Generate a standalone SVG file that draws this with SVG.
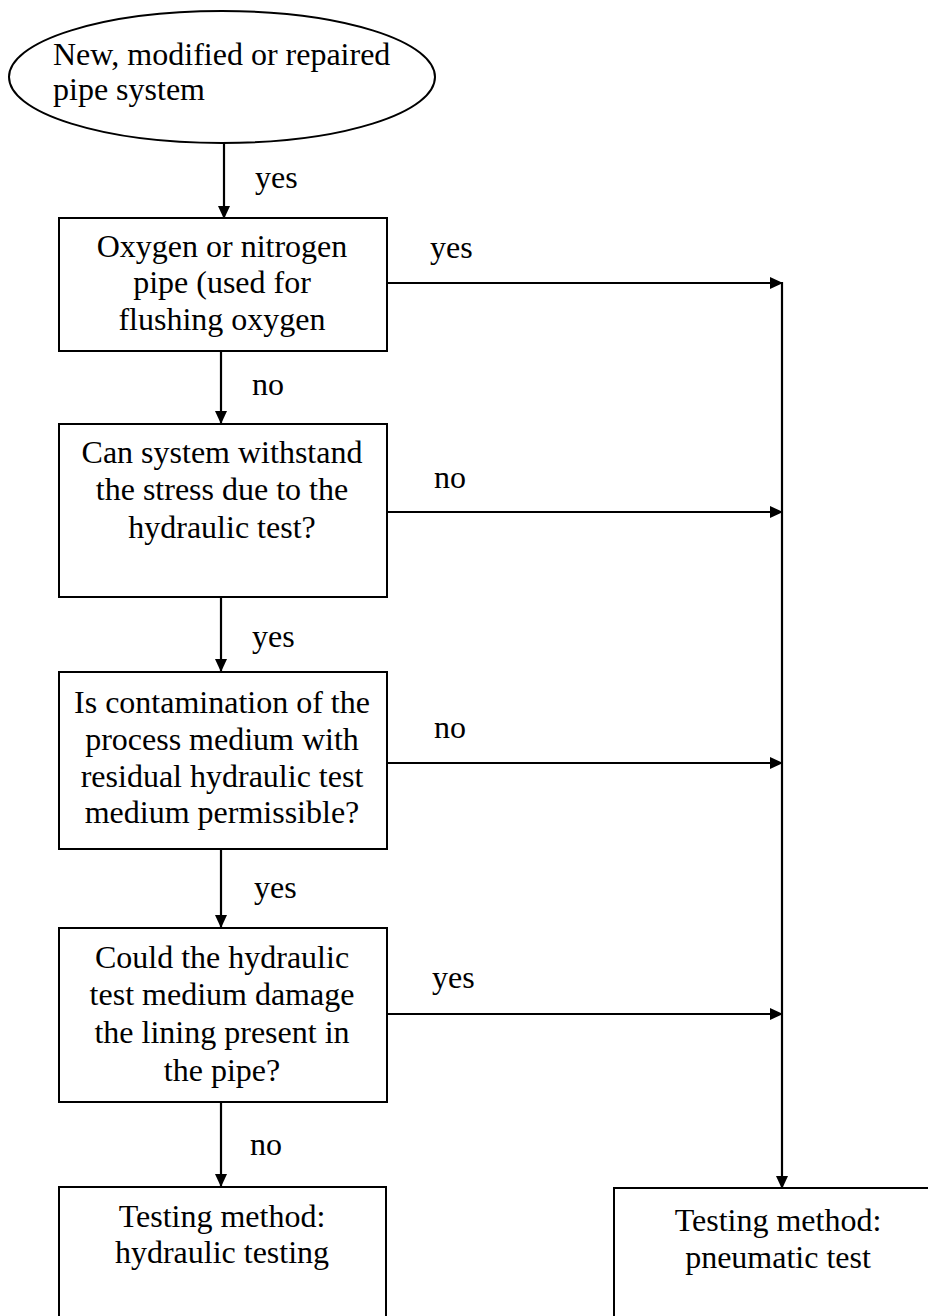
<svg xmlns="http://www.w3.org/2000/svg" width="928" height="1316" viewBox="0 0 928 1316">
<style>
.box{fill:#fff;stroke:#000;stroke-width:2}
.t{font-family:"Liberation Serif","Times New Roman",serif;font-size:32px;fill:#000}
.c{text-anchor:middle}
.ln{fill:none;stroke:#000;stroke-width:2.2}
</style>
<defs>
<marker id="ah" markerWidth="13" markerHeight="12" refX="12" refY="6" orient="auto" markerUnits="userSpaceOnUse">
<path d="M0,0 L13,6 L0,12 Z" fill="#000"/>
</marker>
</defs>
<rect width="928" height="1316" fill="#fff"/>
<g id="start">
<ellipse class="box" cx="222" cy="77" rx="213" ry="66"/>
<text class="t" x="53" y="65">New, modified or repaired</text>
<text class="t" x="53" y="100">pipe system</text>
</g>
<g id="q1">
<rect class="box" x="59" y="218" width="328" height="133"/>
<text class="t c" x="222" y="257">Oxygen or nitrogen</text>
<text class="t c" x="222" y="293">pipe (used for</text>
<text class="t c" x="222" y="330">flushing oxygen</text>
</g>
<g id="q2">
<rect class="box" x="59" y="424" width="328" height="173"/>
<text class="t c" x="222" y="463">Can system withstand</text>
<text class="t c" x="222" y="500">the stress due to the</text>
<text class="t c" x="222" y="538">hydraulic test?</text>
</g>
<g id="q3">
<rect class="box" x="59" y="672" width="328" height="177"/>
<text class="t c" x="222" y="713">Is contamination of the</text>
<text class="t c" x="222" y="750">process medium with</text>
<text class="t c" x="222" y="787">residual hydraulic test</text>
<text class="t c" x="222" y="823">medium permissible?</text>
</g>
<g id="q4">
<rect class="box" x="59" y="928" width="328" height="174"/>
<text class="t c" x="222" y="968">Could the hydraulic</text>
<text class="t c" x="222" y="1005">test medium damage</text>
<text class="t c" x="222" y="1043">the lining present in</text>
<text class="t c" x="222" y="1081">the pipe?</text>
</g>
<g id="hydraulic">
<rect class="box" x="59" y="1187" width="327" height="140"/>
<text class="t c" x="222" y="1227">Testing method:</text>
<text class="t c" x="222" y="1263">hydraulic testing</text>
</g>
<g id="pneumatic">
<rect class="box" x="614" y="1188" width="330" height="140"/>
<text class="t c" x="778" y="1231">Testing method:</text>
<text class="t c" x="778" y="1268">pneumatic test</text>
</g>
<g id="connectors">
<line class="ln" x1="224" y1="143" x2="224" y2="218" marker-end="url(#ah)"/>
<line class="ln" x1="221" y1="351" x2="221" y2="423" marker-end="url(#ah)"/>
<line class="ln" x1="221" y1="597" x2="221" y2="671" marker-end="url(#ah)"/>
<line class="ln" x1="221" y1="849" x2="221" y2="927" marker-end="url(#ah)"/>
<line class="ln" x1="221" y1="1102" x2="221" y2="1186" marker-end="url(#ah)"/>
<line class="ln" x1="387" y1="283" x2="782" y2="283" marker-end="url(#ah)"/>
<line class="ln" x1="387" y1="512" x2="782" y2="512" marker-end="url(#ah)"/>
<line class="ln" x1="387" y1="763" x2="782" y2="763" marker-end="url(#ah)"/>
<line class="ln" x1="387" y1="1014" x2="782" y2="1014" marker-end="url(#ah)"/>
<line class="ln" x1="782" y1="282" x2="782" y2="1188" marker-end="url(#ah)"/>
<text class="t" x="255" y="188">yes</text>
<text class="t" x="252" y="395">no</text>
<text class="t" x="252" y="647">yes</text>
<text class="t" x="254" y="898">yes</text>
<text class="t" x="250" y="1155">no</text>
<text class="t" x="430" y="258">yes</text>
<text class="t" x="434" y="488">no</text>
<text class="t" x="434" y="738">no</text>
<text class="t" x="432" y="988">yes</text>
</g>
</svg>
